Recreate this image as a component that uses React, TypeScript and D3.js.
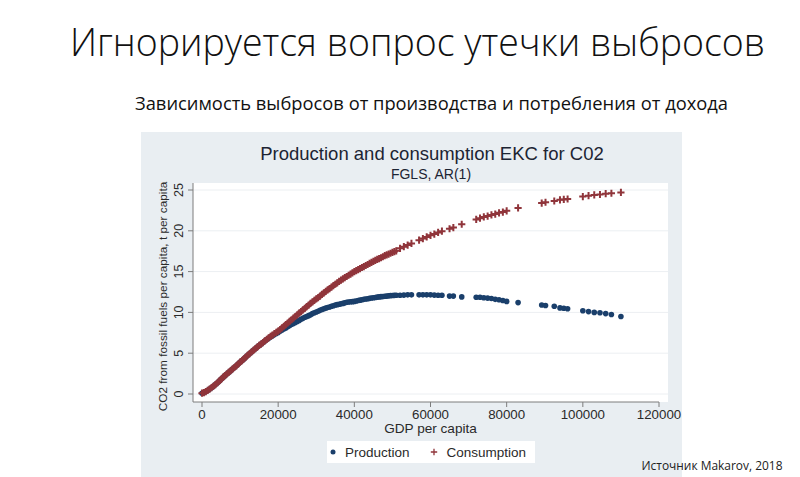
import * as d3 from "d3"

// Dense part of the fitted curves (GDP per capita step ≈ 500)
const denseGdp = [
  0, 500, 1000, 1500, 2000, 2500, 3000, 3500, 4000, 4500, 5000, 5500, 6000, 6500, 7000, 7500,
  8000, 8500, 9000, 9500, 10000, 10500, 11000, 11500, 12000, 12500, 13000, 13500, 14000, 14500,
  15000, 15500, 16000, 16500, 17000, 17500, 18000, 18500, 19000, 19500, 20000, 20500, 21000,
  21500, 22000, 22500, 23000, 23500, 24000, 24500, 25000, 25500, 26000, 26500, 27000, 27500,
  28000, 28500, 29000, 29500, 30000, 30500, 31000, 31500, 32000, 32500, 33000, 33500, 34000,
  34500, 35000, 35500, 36000, 36500, 37000, 37500, 38000, 38500, 39000, 39500, 40000, 40500,
  41000, 41500, 42000, 42500, 43000, 43500, 44000, 44500, 45000, 45500, 46000, 46500, 47000,
  47500, 48000, 48500, 49000, 49500, 50000, 50500, 51000,
]
const denseConsumption = [
  0.1, 0.18, 0.3, 0.45, 0.6, 0.77, 0.95, 1.15, 1.35, 1.57, 1.8, 2.03, 2.25, 2.45, 2.65, 2.85,
  3.05, 3.25, 3.45, 3.67, 3.9, 4.1, 4.3, 4.52, 4.75, 4.95, 5.15, 5.35, 5.55, 5.75, 5.95, 6.12,
  6.3, 6.5, 6.7, 6.87, 7.05, 7.22, 7.4, 7.55, 7.7, 7.9, 8.1, 8.3, 8.5, 8.7, 8.9, 9.1, 9.3, 9.5,
  9.7, 9.9, 10.1, 10.3, 10.5, 10.7, 10.9, 11.1, 11.3, 11.47, 11.65, 11.82, 12.0, 12.2, 12.4,
  12.57, 12.75, 12.92, 13.1, 13.27, 13.45, 13.62, 13.8, 13.95, 14.1, 14.25, 14.4, 14.55, 14.7,
  14.85, 15.0, 15.12, 15.25, 15.37, 15.5, 15.62, 15.75, 15.87, 16.0, 16.12, 16.25, 16.37, 16.5,
  16.6, 16.7, 16.82, 16.95, 17.05, 17.15, 17.25, 17.35, 17.45, 17.55,
]
const denseProduction = [
  0.1, 0.18, 0.3, 0.45, 0.6, 0.77, 0.95, 1.15, 1.35, 1.57, 1.8, 2.03, 2.25, 2.45, 2.65, 2.85,
  3.05, 3.25, 3.45, 3.67, 3.9, 4.1, 4.3, 4.52, 4.75, 4.95, 5.15, 5.35, 5.55, 5.75, 5.95, 6.12,
  6.3, 6.5, 6.68, 6.83, 7.0, 7.15, 7.3, 7.42, 7.55, 7.7, 7.85, 7.97, 8.1, 8.25, 8.4, 8.52, 8.65,
  8.77, 8.9, 9.02, 9.15, 9.27, 9.4, 9.5, 9.6, 9.72, 9.85, 9.95, 10.05, 10.15, 10.25, 10.35,
  10.45, 10.52, 10.6, 10.67, 10.75, 10.82, 10.9, 10.95, 11.0, 11.05, 11.1, 11.17, 11.25, 11.27,
  11.3, 11.32, 11.35, 11.4, 11.45, 11.5, 11.55, 11.6, 11.65, 11.68, 11.72, 11.76, 11.8, 11.83,
  11.87, 11.9, 11.93, 11.95, 11.98, 12.0, 12.03, 12.05, 12.07, 12.09, 12.1,
]

// Sparse tail (rich countries)
const tailGdp = [
  52000, 53000, 54000, 55000, 57000, 58000, 59000, 60000, 61000, 62000, 63000, 65000, 66000,
  68200, 72000, 73000, 74000, 75000, 76000, 77000, 78000, 79000, 80000, 83000, 89200, 90200,
  92500, 94000, 95000, 96000, 100000, 101500, 103000, 104500, 106000, 107500, 110000,
]
const tailProduction = [
  12.1, 12.12, 12.15, 12.15, 12.15, 12.15, 12.15, 12.15, 12.12, 12.1, 12.1, 12.0, 12.0, 11.9,
  11.85, 11.85, 11.8, 11.75, 11.7, 11.6, 11.55, 11.45, 11.35, 11.2, 10.9, 10.85, 10.75, 10.55,
  10.5, 10.45, 10.2, 10.1, 10.0, 9.95, 9.85, 9.75, 9.5,
]
const tailConsumption = [
  17.85, 18.05, 18.25, 18.45, 18.85, 19.05, 19.25, 19.45, 19.6, 19.8, 19.95, 20.25, 20.4, 20.8,
  21.4, 21.55, 21.7, 21.8, 21.95, 22.05, 22.2, 22.3, 22.45, 22.8, 23.4, 23.5, 23.65, 23.8, 23.85,
  23.9, 24.2, 24.3, 24.4, 24.45, 24.55, 24.6, 24.7,
]

const xTicks = [0, 20000, 40000, 60000, 80000, 100000, 120000]
const yTicks = [0, 5, 10, 15, 20, 25]

const COLORS = {
  production: "#1a3f6b",
  consumption: "#90353b",
  panel: "#e9eef2",
  grid: "#eceff2",
  axis: "#7d7d7d",
  text: "#2a2a2a",
}

const W = 800
const H = 477
const ARIAL = "'Liberation Sans', Arial, sans-serif"

export default function App() {
  const x = d3.scaleLinear().domain([0, 120000]).range([202, 659])
  const y = d3.scaleLinear().domain([0, 25]).range([394, 190])

  const plot = { left: 193, right: 668, top: 183, bottom: 402 }

  const production = [
    ...denseGdp.map((g, i) => ({ g, v: denseProduction[i] })),
    ...tailGdp.map((g, i) => ({ g, v: tailProduction[i] })),
  ]
  const consumption = [
    ...denseGdp.map((g, i) => ({ g, v: denseConsumption[i] })),
    ...tailGdp.map((g, i) => ({ g, v: tailConsumption[i] })),
  ]

  const plus = (cx: number, cy: number, s: number) =>
    `M${cx - s},${cy}H${cx + s}M${cx},${cy - s}V${cy + s}`

  return (
    <svg
      width={W}
      height={H}
      style={{ position: "absolute", left: 0, top: 0, background: "#ffffff" }}
    >
      {/* slide titles */}
      <text
        x={70}
        y={56}
        fontFamily="'Open Sans', 'DejaVu Sans', sans-serif"
        fontWeight={300}
        fontSize={39}
        fill="#111"
        textLength={695}
        lengthAdjust="spacingAndGlyphs"
      >
        Игнорируется вопрос утечки выбросов
      </text>
      <text
        x={135}
        y={110}
        fontFamily="'Open Sans', 'DejaVu Sans', sans-serif"
        fontSize={18}
        fill="#111"
        textLength={593}
        lengthAdjust="spacingAndGlyphs"
      >
        Зависимость выбросов от производства и потребления от дохода
      </text>

      {/* Stata graph region */}
      <rect x={141} y={132} width={541} height={H - 132} fill={COLORS.panel} />
      <rect
        x={plot.left}
        y={plot.top}
        width={plot.right - plot.left}
        height={plot.bottom - plot.top}
        fill="#ffffff"
      />

      <text
        x={432}
        y={160}
        textAnchor="middle"
        fontFamily={ARIAL}
        fontSize={18.5}
        fill="#1c2433"
      >
        Production and consumption EKC for C02
      </text>
      <text x={431} y={178.5} textAnchor="middle" fontFamily={ARIAL} fontSize={14} fill="#1c2433">
        FGLS, AR(1)
      </text>

      {/* grid */}
      {yTicks.map((t) => (
        <line
          key={`g${t}`}
          x1={plot.left}
          x2={plot.right}
          y1={y(t)}
          y2={y(t)}
          stroke={COLORS.grid}
          strokeWidth={1}
        />
      ))}

      {/* axes */}
      <line x1={plot.left} x2={plot.left} y1={plot.top} y2={plot.bottom} stroke={COLORS.axis} />
      <line x1={plot.left} x2={x(120000)} y1={plot.bottom} y2={plot.bottom} stroke={COLORS.axis} />
      {yTicks.map((t) => (
        <g key={`y${t}`}>
          <line x1={plot.left - 5} x2={plot.left} y1={y(t)} y2={y(t)} stroke={COLORS.axis} />
          <text
            transform={`translate(183,${y(t)}) rotate(-90)`}
            textAnchor="middle"
            fontFamily={ARIAL}
            fontSize={12.5}
            fill={COLORS.text}
          >
            {t}
          </text>
        </g>
      ))}
      {xTicks.map((t) => (
        <g key={`x${t}`}>
          <line x1={x(t)} x2={x(t)} y1={plot.bottom} y2={plot.bottom + 5} stroke={COLORS.axis} />
          <text
            x={x(t)}
            y={plot.bottom + 17}
            textAnchor="middle"
            fontFamily={ARIAL}
            fontSize={13.3}
            fill={COLORS.text}
          >
            {t}
          </text>
        </g>
      ))}
      <text
        x={430.5}
        y={433}
        textAnchor="middle"
        fontFamily={ARIAL}
        fontSize={13.6}
        fill={COLORS.text}
      >
        GDP per capita
      </text>
      <text
        transform={`translate(166.5,${(plot.top + 410) / 2}) rotate(-90)`}
        textAnchor="middle"
        fontFamily={ARIAL}
        fontSize={11.8}
        fill={COLORS.text}
      >
        CO2 from fossil fuels per capita, t per capita
      </text>

      {/* marks */}
      <g>
        {production.map((d, i) => (
          <circle key={`p${i}`} cx={x(d.g)} cy={y(d.v)} r={2.8} fill={COLORS.production} />
        ))}
      </g>
      <g stroke={COLORS.consumption} strokeWidth={2} fill="none">
        {consumption.map((d, i) => (
          <path key={`c${i}`} d={plus(x(d.g), y(d.v), 3.6)} />
        ))}
      </g>

      {/* legend */}
      <rect x={327} y={441} width={208} height={22} fill="#ffffff" />
      <circle cx={333} cy={452} r={2.5} fill={COLORS.production} />
      <text x={345} y={457} fontFamily={ARIAL} fontSize={13.5} fill={COLORS.text}>
        Production
      </text>
      <path d={plus(434, 452, 3.2)} stroke={COLORS.consumption} strokeWidth={1.3} />
      <text x={446.5} y={457} fontFamily={ARIAL} fontSize={13.5} fill={COLORS.text}>
        Consumption
      </text>

      <text
        x={641.5}
        y={470}
        fontFamily="'Open Sans', 'DejaVu Sans', sans-serif"
        fontSize={12.5}
        fill="#222"
        textLength={141}
        lengthAdjust="spacingAndGlyphs"
      >
        Источник Makarov, 2018
      </text>
    </svg>
  )
}
